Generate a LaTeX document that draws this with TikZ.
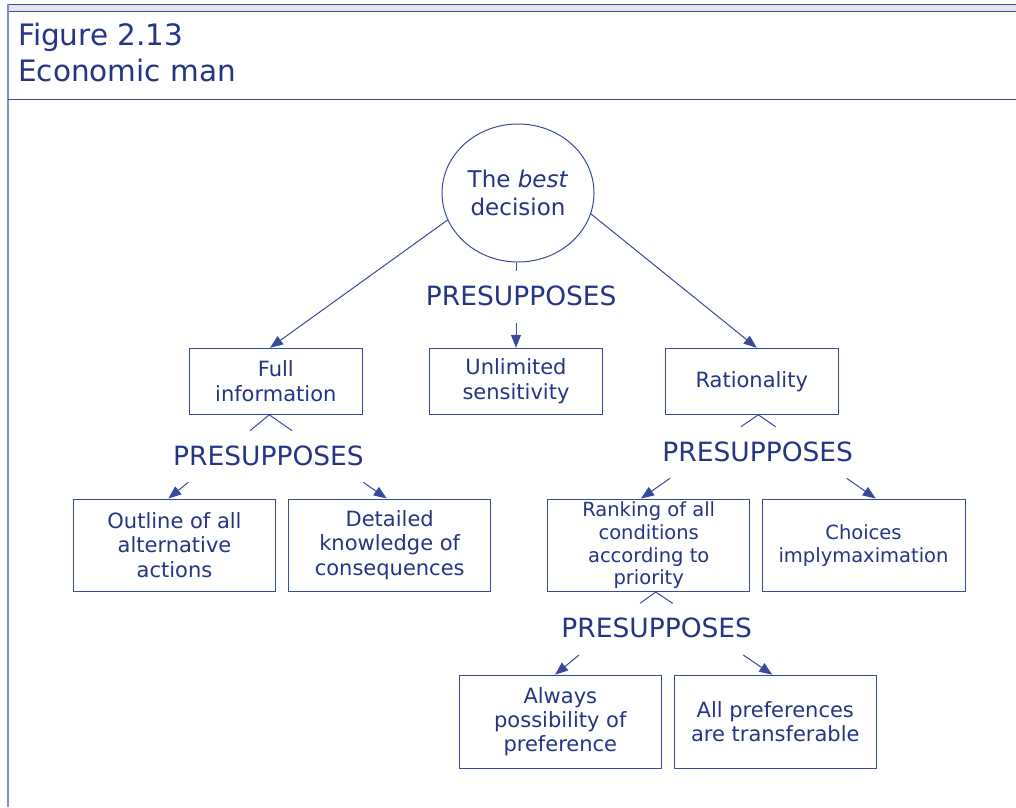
\documentclass[tikz,border=0pt]{standalone}
\usepackage{fontspec}
\setmainfont{DejaVu Sans}
\usetikzlibrary{arrows.meta,shapes.geometric,calc}
\definecolor{ink}{RGB}{38,52,132}
\definecolor{edge}{RGB}{58,74,155}
\definecolor{band}{RGB}{228,229,235}
\definecolor{lside}{RGB}{130,140,200}
\begin{document}
\begin{tikzpicture}[x=1pt,y=-1pt,
  box/.style={draw=edge,line width=1pt,inner sep=0pt,align=center,text=ink,font=\fontsize{21}{24.3}\selectfont},
  sbox/.style={box,font=\fontsize{19.5}{22.7}\selectfont},
  pres/.style={text=ink,font=\fontsize{26.5}{30}\selectfont,anchor=base,inner sep=0pt},
  head/.style={text=ink,font=\fontsize{29.5}{36}\selectfont,anchor=base west,inner sep=0pt},
  arr/.style={draw=edge,line width=1pt,-{Triangle[length=13pt,width=10pt]}},
  conn/.style={draw=edge,line width=1pt},
  ]
\useasboundingbox (0,0) rectangle (1016,807);
\fill[white] (0,0) rectangle (1016,807);
% frame
\filldraw[fill=band,draw=edge,line width=1pt] (7,4.5) rectangle (1016,11.5);
\draw[lside,line width=1.5pt] (8,4) -- (8,807);
\draw[edge,line width=1pt] (8,99) -- (1016,99);
% header
\node[head] (fig) at (18,45) {Figure 2.13};
\node[head] (title) at (18,81) {Economic man};
% top circle
\node[ellipse,draw=edge,line width=1pt,minimum width=152pt,minimum height=138pt,inner sep=0pt,align=center,text=ink,font=\fontsize{23}{28}\selectfont] (best) at (518,193) {The \textit{best}\\decision};
% boxes
\node[box,minimum width=173pt,minimum height=66pt] (full) at (275.8,381.3) {Full\\information};
\node[box,minimum width=173pt,minimum height=66pt] (unlim) at (516,381.3) {Unlimited\\sensitivity};
\node[box,minimum width=173pt,minimum height=66pt] (rat) at (751.7,381.3) {Rationality};
\node[box,minimum width=202.5pt,minimum height=92pt] (outline) at (174.5,545) {Outline of all\\alternative\\actions};
\node[box,minimum width=202.5pt,minimum height=92pt] (detailed) at (389.7,545) {Detailed\\knowledge of\\consequences};
\node[sbox,minimum width=202.5pt,minimum height=92.5pt] (ranking) at (648.7,545.3) {Ranking of all\\conditions\\according to\\priority};
\node[sbox,minimum width=203pt,minimum height=92.5pt] (choices) at (863.5,545.3) {Choices\\implymaximation};
\node[box,minimum width=202.5pt,minimum height=93pt] (always) at (560.3,721.7) {Always\\possibility of\\preference};
\node[box,minimum width=202.5pt,minimum height=93pt] (allpref) at (775.3,721.7) {All preferences\\are transferable};
% PRESUPPOSES labels
\node[pres] (p0) at (521.2,305) {PRESUPPOSES};
\node[pres] (p1) at (268.5,465) {PRESUPPOSES};
\node[pres] (p2) at (757.7,461.7) {PRESUPPOSES};
\node[pres] (p3) at (656.7,637.3) {PRESUPPOSES};
% connectors from the circle
\draw[arr] (best.201.5) -- ($(full.north)+(-5.8,0)$);
\draw[arr] (best.344) -- ($(rat.north)+(5,0)$);
\draw[conn] (best.south -| unlim.north) -- ++(0,8);
\coordinate (m1) at (516,322.7);
\draw[arr] (m1) -- (unlim.north);
% carets
\coordinate (c1l) at (250,430.7); \coordinate (c1r) at (292,430.7);
\draw[conn] (c1l) -- ($(full.south)+(-6.5,0)$) -- (c1r);
\coordinate (c2l) at (741,426.7); \coordinate (c2r) at (775.7,426.7);
\draw[conn] (c2l) -- ($(rat.south)+(6.6,0)$) -- (c2r);
\coordinate (c3l) at (640,603.3); \coordinate (c3r) at (672.7,603.3);
\draw[conn] (c3l) -- ($(ranking.south)+(7,0)$) -- (c3r);
% arrows to lower boxes
\coordinate (a1) at (188.3,482.3); \draw[arr] (a1) -- ($(outline.north)+(-6.2,0)$);
\coordinate (a2) at (363.3,482.3); \draw[arr] (a2) -- ($(detailed.north)+(-3,0)$);
\coordinate (a3) at (670,478.3); \draw[arr] (a3) -- ($(ranking.north)+(-7.7,0)$);
\coordinate (a4) at (846.7,478.3); \draw[arr] (a4) -- ($(choices.north)+(12.2,0)$);
\coordinate (a5) at (579,655); \draw[arr] (a5) -- ($(always.north)+(-5.3,0)$);
\coordinate (a6) at (743.3,655); \draw[arr] (a6) -- ($(allpref.north)+(-3,0)$);
\end{tikzpicture}
\end{document}
